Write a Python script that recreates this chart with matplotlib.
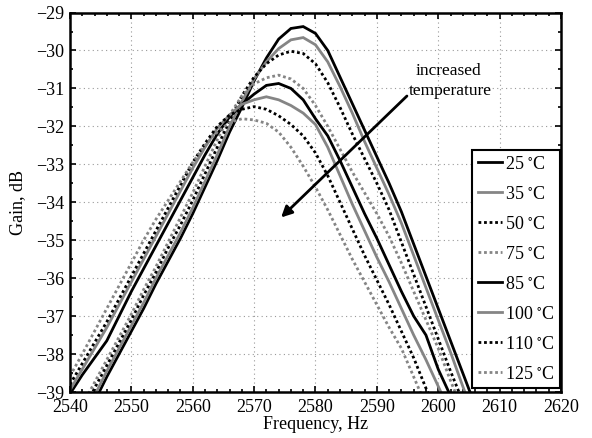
import matplotlib
matplotlib.use("Agg")
import matplotlib.pyplot as plt
from matplotlib.ticker import MultipleLocator

plt.rcParams['font.family'] = ['Liberation Serif', 'DejaVu Serif']
plt.rcParams['mathtext.fontset'] = 'stix'

# frequency grid, Hz
freq = [2540, 2542, 2544, 2546, 2548, 2550, 2552, 2554, 2556, 2558,
        2560, 2562, 2564, 2566, 2568, 2570, 2572, 2574, 2576, 2578,
        2580, 2582, 2584, 2586, 2588, 2590, 2592, 2594, 2596, 2598,
        2600, 2602, 2604, 2606, 2608, 2610]

# gain, dB
gain_25 = [-40.5, -39.9, -39.25, -38.6, -38.0, -37.4, -36.8, -36.15, -35.55, -34.95,
           -34.3, -33.6, -32.9, -32.15, -31.5, -30.8, -30.2, -29.7, -29.42, -29.37,
           -29.55, -30.0, -30.7, -31.4, -32.1, -32.8, -33.5, -34.25, -35.1, -35.95,
           -36.8, -37.65, -38.5, -39.35, -40.2, -41.0]
gain_35 = [-40.35, -39.7, -39.1, -38.45, -37.85, -37.25, -36.65, -36.0, -35.4, -34.8,
           -34.15, -33.45, -32.75, -32.0, -31.35, -30.75, -30.3, -29.95, -29.72, -29.66,
           -29.85, -30.3, -30.95, -31.65, -32.4, -33.1, -33.8, -34.55, -35.4, -36.25,
           -37.1, -37.95, -38.85, -39.7, -40.5, -41.3]
gain_50 = [-40.15, -39.55, -38.9, -38.3, -37.7, -37.1, -36.45, -35.85, -35.2, -34.6,
           -33.95, -33.25, -32.55, -31.85, -31.2, -30.7, -30.35, -30.12, -30.02, -30.08,
           -30.35, -30.85, -31.5, -32.2, -32.85, -33.5, -34.2, -35.05, -35.9, -36.75,
           -37.6, -38.45, -39.25, -40.1, -40.9, -41.7]
gain_75 = [-39.95, -39.35, -38.75, -38.15, -37.55, -36.95, -36.3, -35.7, -35.05, -34.4,
           -33.75, -33.05, -32.35, -31.7, -31.2, -30.88, -30.72, -30.65, -30.75, -31.0,
           -31.45, -32.0, -32.6, -33.2, -33.75, -34.3, -34.9, -35.6, -36.35, -37.1,
           -37.85, -38.7, -39.5, -40.3, -41.1, -41.9]
gain_85 = [-39.05, -38.55, -38.1, -37.65, -37.0, -36.35, -35.75, -35.15, -34.55, -33.95,
           -33.35, -32.75, -32.2, -31.75, -31.42, -31.15, -30.92, -30.87, -31.0, -31.3,
           -31.8, -32.25, -32.9, -33.6, -34.3, -34.95, -35.65, -36.35, -37.0, -37.5,
           -38.4, -39.1, -39.8, -40.5, -41.2, -41.9]
gain_100 = [-38.95, -38.4, -37.85, -37.3, -36.7, -36.1, -35.5, -34.9, -34.3, -33.7,
            -33.1, -32.55, -32.05, -31.7, -31.42, -31.3, -31.22, -31.3, -31.45, -31.65,
            -31.95, -32.55, -33.3, -34.05, -34.75, -35.45, -36.1, -36.8, -37.5, -38.15,
            -38.85, -39.55, -40.25, -40.95, -41.65, -42.35]
gain_110 = [-38.8, -38.25, -37.7, -37.15, -36.55, -35.95, -35.35, -34.75, -34.15, -33.55,
            -32.95, -32.45, -32.0, -31.7, -31.55, -31.48, -31.55, -31.72, -31.95, -32.25,
            -32.7, -33.3, -34.0, -34.7, -35.4, -36.05, -36.7, -37.4, -38.1, -38.9,
            -39.6, -40.3, -41.0, -41.7, -42.4, -43.1]
gain_125 = [-38.58, -38.0, -37.4, -36.8, -36.2, -35.6, -35.0, -34.45, -33.95, -33.45,
            -32.95, -32.5, -32.15, -31.9, -31.8, -31.83, -31.92, -32.15, -32.55, -33.05,
            -33.6, -34.2, -34.85, -35.5, -36.1, -36.7, -37.3, -37.85, -38.6, -39.35,
            -40.1, -40.85, -41.6, -42.35, -43.1, -43.85]

labels = [r'25 $^{\circ}$C', r'35 $^{\circ}$C', r'50 $^{\circ}$C', r'75 $^{\circ}$C',
          r'85 $^{\circ}$C', r'100 $^{\circ}$C', r'110 $^{\circ}$C', r'125 $^{\circ}$C']
curves = [gain_25, gain_35, gain_50, gain_75, gain_85, gain_100, gain_110, gain_125]

gray = '#858585'
styles = [('k', '-'), (gray, '-'), ('k', (0, (1, 1))), (gray, (0, (1, 1)))] * 2

fig = plt.figure(figsize=(5.92, 4.38), dpi=100)
ax = fig.add_axes([0.1182, 0.105, 0.8294, 0.8664])

for g, lab, (c, ls) in zip(curves, labels, styles):
    ax.plot(freq, g, color=c, linestyle=ls, lw=2.0, label=lab,
            dash_capstyle='butt', solid_joinstyle='miter')

ax.set_xlim(2540, 2620)
ax.set_ylim(-39, -29)
ax.xaxis.set_major_locator(MultipleLocator(10))
ax.xaxis.set_minor_locator(MultipleLocator(2))
ax.yaxis.set_major_locator(MultipleLocator(1))
ax.yaxis.set_minor_locator(MultipleLocator(0.5))
ax.tick_params(which='both', direction='in', top=True, right=True,
               labelsize=13, width=1.2)
ax.tick_params(axis='x', which='major', length=4, pad=5)
ax.tick_params(axis='y', which='major', length=4, pad=4)
ax.tick_params(which='minor', length=2.5)
ax.grid(True, which='major', color='0.6', linestyle=(0, (1, 3)), lw=0.8)
for sp in ax.spines.values():
    sp.set_linewidth(1.8)

ax.set_xlabel('Frequency, Hz', fontsize=13, labelpad=0)
ax.set_ylabel('Gain, dB', fontsize=13, labelpad=7)

ax.text(2601.6, -30.55, 'increased', fontsize=12.5, ha='center', va='center')
ax.text(2601.9, -31.07, 'temperature', fontsize=12.5, ha='center', va='center')
ax.annotate('', xy=(2574.4, -34.4), xytext=(2594.9, -31.2),
            arrowprops=dict(arrowstyle='-|>', color='k', lw=2,
                            mutation_scale=16, shrinkA=0, shrinkB=0))

leg = ax.legend(loc='lower right', bbox_to_anchor=(0.998, 0.01), fontsize=13,
                handlelength=1.35, handletextpad=0.15, labelspacing=0.72,
                borderpad=0.3, borderaxespad=0, fancybox=False, framealpha=1)
leg.get_frame().set_edgecolor('k')
leg.get_frame().set_linewidth(1.5)

fig.savefig('out.png', dpi=100)
